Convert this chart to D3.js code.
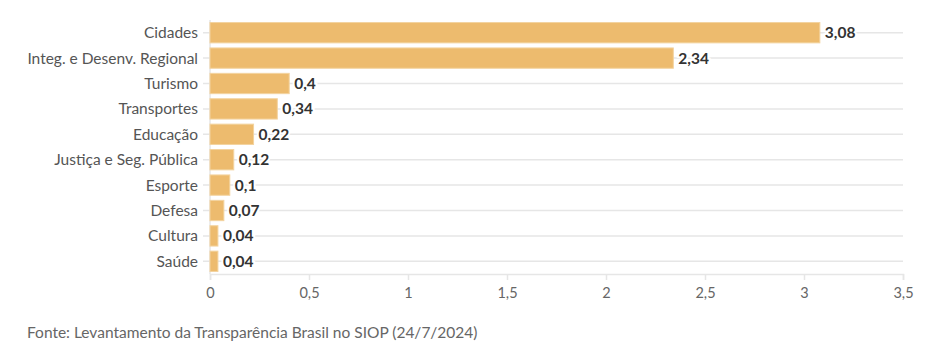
<!DOCTYPE html>
<html>
<head>
<meta charset="utf-8">
<script src="https://cdn.jsdelivr.net/npm/d3@7"></script>
<style>
  body { margin: 0; background: #fff; }
  svg text { font-family: Lato, "Noto Sans", sans-serif; }
</style>
</head>
<body>
<div id="chart"></div>
<script>
// dados do gráfico
const categorias = ["Cidades", "Integ. e Desenv. Regional", "Turismo", "Transportes", "Educação",
  "Justiça e Seg. Pública", "Esporte", "Defesa", "Cultura", "Saúde"]
const valores = [3.08, 2.34, 0.4, 0.34, 0.22, 0.12, 0.1, 0.07, 0.04, 0.04]
const ticksX = [0, 0.5, 1, 1.5, 2, 2.5, 3, 3.5]
const fonte = "Fonte: Levantamento da Transparência Brasil no SIOP (24/7/2024)"

const anchoTotal = 927
const altoTotal = 349
const margins = { top: 20, right: 24, bottom: 75, left: 210 }
const ancho = anchoTotal - margins.left - margins.right
const alto = altoTotal - margins.top - margins.bottom

const fmt = v => String(v).replace(".", ",")

const svg = d3.select("#chart")
  .append("svg")
    .attr("width", anchoTotal)
    .attr("height", altoTotal)

const g = svg.append("g")
  .attr("transform", `translate(${margins.left},${margins.top})`)

const x = d3.scaleLinear().domain([0, 3.5]).range([0, ancho])
const y = d3.scaleBand().domain(categorias).range([0, alto]).paddingInner(0.2).paddingOuter(0.1)

// linhas de grade horizontais
g.selectAll(".grid")
  .data(categorias)
  .join("line")
    .attr("x1", -7)
    .attr("x2", ancho)
    .attr("y1", d => y(d) + y.bandwidth() / 2)
    .attr("y2", d => y(d) + y.bandwidth() / 2)
    .attr("stroke", "#e6e6e6")
    .attr("stroke-width", 1.5)

// eixo vertical
g.append("line")
  .attr("x1", 0).attr("x2", 0)
  .attr("y1", 0).attr("y2", alto)
  .attr("stroke", "#e6e6e6")
  .attr("stroke-width", 1.5)

// barras
g.selectAll(".bar")
  .data(valores)
  .join("rect")
    .attr("x", 0)
    .attr("y", (d, i) => y(categorias[i]))
    .attr("width", d => x(d))
    .attr("height", y.bandwidth())
    .attr("fill", "#edbb6e")
    .attr("stroke", "#f3d39f")
    .attr("stroke-width", 1)

// rótulos de valor
g.selectAll(".val")
  .data(valores)
  .join("text")
    .attr("x", d => x(d) + 5)
    .attr("y", (d, i) => y(categorias[i]) + y.bandwidth() / 2)
    .attr("dy", "0.35em")
    .attr("font-size", 15.5)
    .attr("font-weight", "bold")
    .attr("fill", "#333")
    .attr("stroke", "#fff")
    .attr("stroke-width", 4)
    .attr("paint-order", "stroke")
    .text(d => fmt(d))

// rótulos de categoria
g.selectAll(".cat")
  .data(categorias)
  .join("text")
    .attr("x", -12)
    .attr("y", d => y(d) + y.bandwidth() / 2)
    .attr("dy", "0.35em")
    .attr("text-anchor", "end")
    .attr("font-size", 15.5)
    .attr("fill", "#555")
    .text(d => d)

// eixo x
const eixoX = g.append("g")
  .attr("transform", `translate(0,${alto})`)
  .call(d3.axisBottom(x).tickValues(ticksX).tickFormat(fmt).tickSize(6).tickPadding(8))
eixoX.select(".domain").attr("stroke", "#e6e6e6").attr("stroke-width", 1.5)
eixoX.selectAll(".tick line").attr("stroke", "#e6e6e6").attr("stroke-width", 1.5)
eixoX.selectAll(".tick text")
  .attr("font-size", 14.5)
  .attr("fill", "#666")
  .style("font-family", "Lato, sans-serif")

svg.append("text")
  .attr("x", 27)
  .attr("y", 338)
  .attr("font-size", 15.5)
  .attr("fill", "#666")
  .text(fonte)
</script>
</body>
</html>
